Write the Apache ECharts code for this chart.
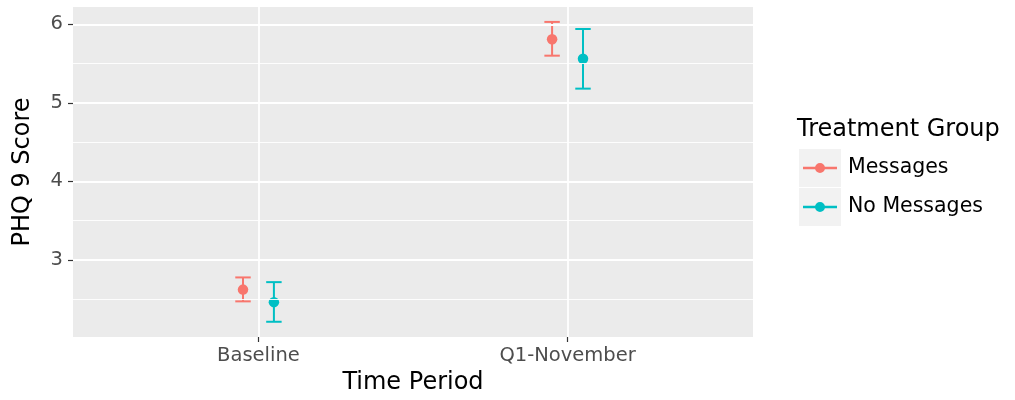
<!DOCTYPE html>
<html>
<head>
<meta charset="utf-8">
<script src="https://cdn.jsdelivr.net/npm/echarts@6/dist/echarts.min.js"></script>
<style>html,body{margin:0;padding:0;background:#fff}#c{width:1015px;height:400px}</style>
</head>
<body>
<div id="c"></div>
<script>
// ---- data ----
const categories = ['Baseline', 'Q1-November'];
const groups = ['Messages', 'No Messages'];
const messagesMean = [2.62, 5.81];
const messagesLow = [2.47, 5.60];
const messagesHigh = [2.775, 6.03];
const noMessagesMean = [2.46, 5.56];
const noMessagesLow = [2.21, 5.18];
const noMessagesHigh = [2.715, 5.94];
const yTicks = [3, 4, 5, 6];
const yMinorTicks = [2.5, 3.5, 4.5, 5.5];

// ---- styling / layout ----
const colors = ['#F8766D', '#00BFC4'];
const dodge = [-0.05, 0.05];
const capHalf = 0.025;
const FONT = 'DejaVu Sans';
const keyIcon = 'path://M0,3.7 L12.5,3.7 L12.5,6.3 L0,6.3 Z M21.5,3.7 L34,3.7 L34,6.3 L21.5,6.3 Z M12,5 A5,5 0 1,1 22,5 A5,5 0 1,1 12,5 Z';

const means = [messagesMean, noMessagesMean];
const lows = [messagesLow, noMessagesLow];
const highs = [messagesHigh, noMessagesHigh];

const series = [];
// grid lines (ggplot-like), drawn via markLine under the data
series.push({
  type: 'line', data: [], z: 1, silent: true,
  itemStyle: {color: '#ffffff'}, lineStyle: {color: '#ffffff'},
  markLine: {
    silent: true, symbol: 'none', animation: false,
    label: {show: false},
    data: [
      ...yMinorTicks.map(v => ({yAxis: v, lineStyle: {color: '#fff', width: 0.9, type: 'solid'}})),
      ...yTicks.map(v => ({yAxis: v, lineStyle: {color: '#fff', width: 1.8, type: 'solid'}})),
      ...categories.map((c, i) => ({xAxis: i + 1, lineStyle: {color: '#fff', width: 1.8, type: 'solid'}}))
    ]
  }
});
groups.forEach((g, gi) => {
  series.push({
    name: g, type: 'custom', z: 3,
    itemStyle: {color: colors[gi]},
    renderItem: function (params, api) {
      const x = api.value(0), lo = api.value(1), hi = api.value(2);
      const a = api.coord([x, lo]), b = api.coord([x, hi]);
      const l1 = api.coord([x - capHalf, hi]), r1 = api.coord([x + capHalf, hi]);
      const l2 = api.coord([x - capHalf, lo]), r2 = api.coord([x + capHalf, lo]);
      const st = {stroke: colors[gi], lineWidth: 2};
      return {type: 'group', children: [
        {type: 'line', shape: {x1: a[0], y1: a[1], x2: b[0], y2: b[1]}, style: st},
        {type: 'line', shape: {x1: l1[0], y1: l1[1], x2: r1[0], y2: r1[1]}, style: st},
        {type: 'line', shape: {x1: l2[0], y1: l2[1], x2: r2[0], y2: r2[1]}, style: st}
      ]};
    },
    encode: {x: 0, y: [1, 2]},
    data: categories.map((c, i) => [i + 1 + dodge[gi], lows[gi][i], highs[gi][i]])
  });
  series.push({
    name: g, type: 'scatter', z: 4,
    symbol: 'circle', symbolSize: 10.5,
    itemStyle: {color: colors[gi], opacity: 1},
    data: categories.map((c, i) => [i + 1 + dodge[gi], means[gi][i]])
  });
});

const chart = echarts.init(document.getElementById('c'), null, {renderer: 'canvas'});
chart.setOption({
  animation: false,
  color: colors,
  textStyle: {fontFamily: FONT},
  grid: {left: 73, right: 262, top: 7, bottom: 63, containLabel: false, show: true, backgroundColor: '#EBEBEB', borderWidth: 0},
  xAxis: {
    type: 'value', min: 0.4, max: 2.6,
    name: 'Time Period', nameLocation: 'middle', nameGap: 34,
    nameTextStyle: {fontFamily: FONT, fontSize: 24, color: '#000'},
    axisLine: {show: false},
    axisTick: {show: true, length: 5, customValues: [1, 2], lineStyle: {color: '#333', width: 1.2}},
    axisLabel: {show: true, margin: 9, fontFamily: FONT, fontSize: 19.5, color: '#4D4D4D',
      customValues: [1, 2], formatter: v => categories[Math.round(v) - 1]},
    splitLine: {show: false}
  },
  yAxis: {
    type: 'value', min: 2.016, max: 6.22,
    name: 'PHQ 9 Score', nameLocation: 'middle', nameGap: 38,
    nameTextStyle: {fontFamily: FONT, fontSize: 24, color: '#000'},
    axisLine: {show: false},
    axisTick: {show: true, length: 5, customValues: yTicks, lineStyle: {color: '#333', width: 1.2}},
    axisLabel: {show: true, margin: 10, fontFamily: FONT, fontSize: 19.5, color: '#4D4D4D', customValues: yTicks},
    splitLine: {show: false}
  },
  title: {
    text: 'Treatment Group', left: 797, top: 116, padding: 0,
    textStyle: {fontFamily: FONT, fontSize: 24, fontWeight: 'normal', color: '#000', lineHeight: 28}
  },
  legend: [
    {data: [{name: groups[0], icon: keyIcon, itemStyle: {color: colors[0]}}], left: 803, top: 157, padding: 0, itemWidth: 34, itemHeight: 10,
      textStyle: {fontFamily: FONT, fontSize: 20.5, color: '#000', lineHeight: 22, padding: [0, 0, 0, 6]}},
    {data: [{name: groups[1], icon: keyIcon, itemStyle: {color: colors[1]}}], left: 803, top: 196, padding: 0, itemWidth: 34, itemHeight: 10,
      textStyle: {fontFamily: FONT, fontSize: 20.5, color: '#000', lineHeight: 22, padding: [0, 0, 0, 6]}}
  ],
  graphic: [
    {type: 'rect', left: 799, top: 149, z: -1, shape: {width: 42, height: 38}, style: {fill: '#F2F2F2'}},
    {type: 'rect', left: 799, top: 188, z: -1, shape: {width: 42, height: 38}, style: {fill: '#F2F2F2'}}
  ],
  series: series
});
</script>
</body>
</html>
